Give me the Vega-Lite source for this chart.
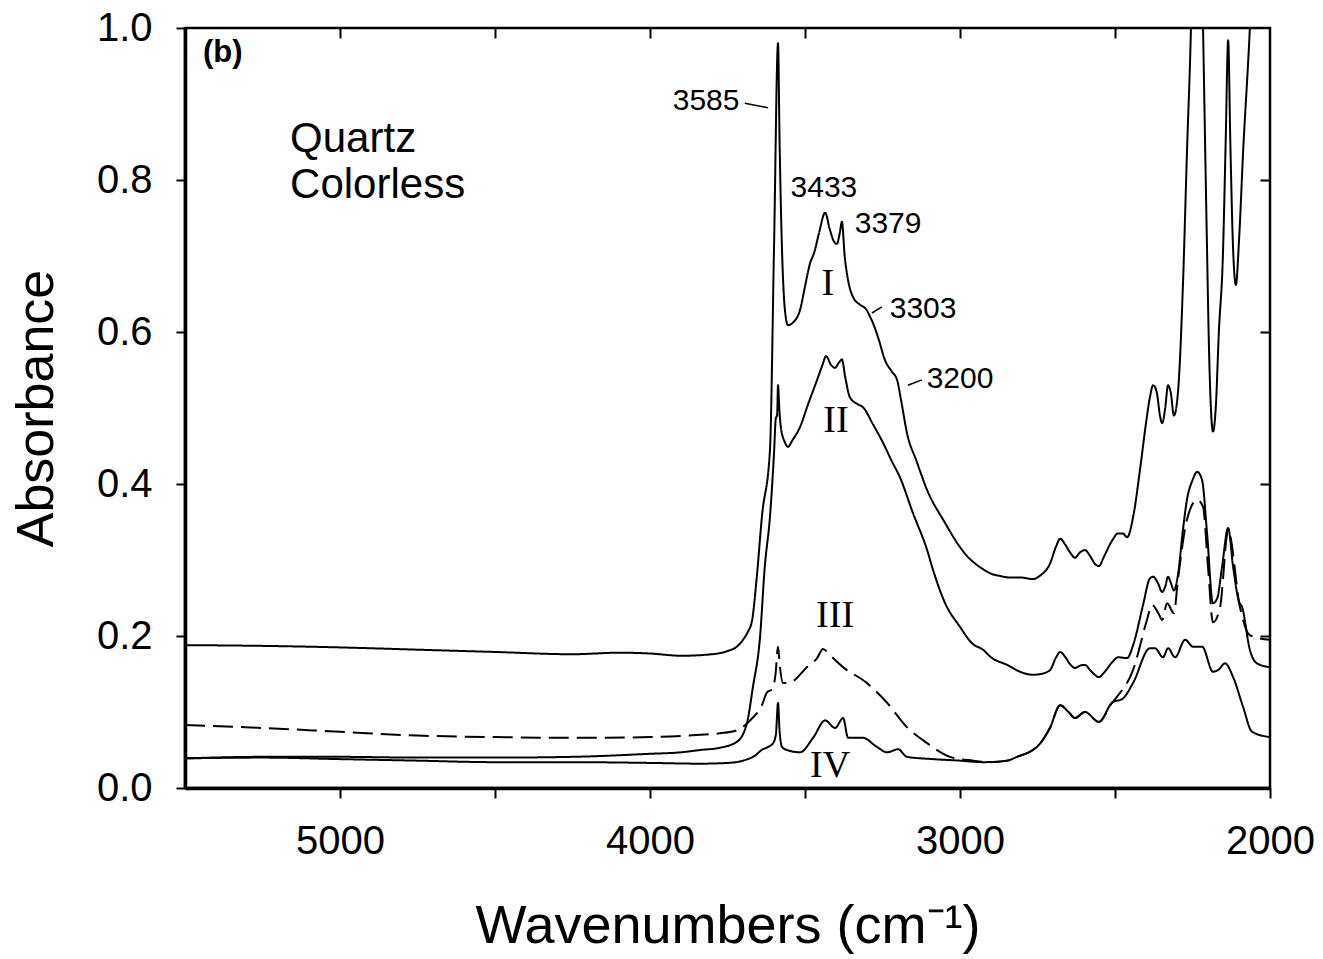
{
  "$schema": "https://vega.github.io/schema/vega-lite/v6.json",
  "width": 1085,
  "height": 760,
  "autosize": "none",
  "padding": {"left": 185, "top": 28, "right": 53, "bottom": 171},
  "background": "white",
  "config": {
    "view": {"stroke": "black", "strokeWidth": 2.5},
    "axis": {"grid": false, "domainColor": "black", "tickColor": "black", "labelColor": "black", "titleColor": "black", "labelFont": "Liberation Sans", "titleFont": "Liberation Sans", "titleFontWeight": "normal"}
  },
  "datasets": {
    "curves": [
      {"s":"I","wn":5500,"a":0.188},{"s":"I","wn":5250,"a":0.187},{"s":"I","wn":5000,"a":0.185},{"s":"I","wn":4750,"a":0.182},{"s":"I","wn":4500,"a":0.179},{"s":"I","wn":4250,"a":0.176},{"s":"I","wn":4100,"a":0.178},{"s":"I","wn":4000,"a":0.177},{"s":"I","wn":3900,"a":0.174},{"s":"I","wn":3800,"a":0.176},{"s":"I","wn":3752,"a":0.18},{"s":"I","wn":3720,"a":0.186},{"s":"I","wn":3700,"a":0.195},{"s":"I","wn":3685,"a":0.205},{"s":"I","wn":3671,"a":0.22},{"s":"I","wn":3655,"a":0.28},{"s":"I","wn":3639,"a":0.357},{"s":"I","wn":3613,"a":0.445},{"s":"I","wn":3600,"a":0.71},{"s":"I","wn":3587,"a":0.98},{"s":"I","wn":3582,"a":0.85},{"s":"I","wn":3575,"a":0.72},{"s":"I","wn":3565,"a":0.63},{"s":"I","wn":3555,"a":0.609},{"s":"I","wn":3540,"a":0.612},{"s":"I","wn":3516,"a":0.629},{"s":"I","wn":3500,"a":0.66},{"s":"I","wn":3484,"a":0.69},{"s":"I","wn":3470,"a":0.705},{"s":"I","wn":3455,"a":0.73},{"s":"I","wn":3435,"a":0.757},{"s":"I","wn":3420,"a":0.735},{"s":"I","wn":3405,"a":0.718},{"s":"I","wn":3397,"a":0.716},{"s":"I","wn":3388,"a":0.73},{"s":"I","wn":3381,"a":0.745},{"s":"I","wn":3372,"a":0.70},{"s":"I","wn":3361,"a":0.668},{"s":"I","wn":3345,"a":0.646},{"s":"I","wn":3323,"a":0.636},{"s":"I","wn":3303,"a":0.63},{"s":"I","wn":3290,"a":0.62},{"s":"I","wn":3281,"a":0.612},{"s":"I","wn":3262,"a":0.59},{"s":"I","wn":3242,"a":0.563},{"s":"I","wn":3220,"a":0.548},{"s":"I","wn":3203,"a":0.537},{"s":"I","wn":3190,"a":0.51},{"s":"I","wn":3171,"a":0.467},{"s":"I","wn":3140,"a":0.43},{"s":"I","wn":3106,"a":0.392},{"s":"I","wn":3050,"a":0.35},{"s":"I","wn":3000,"a":0.317},{"s":"I","wn":2977,"a":0.305},{"s":"I","wn":2950,"a":0.295},{"s":"I","wn":2926,"a":0.288},{"s":"I","wn":2900,"a":0.282},{"s":"I","wn":2871,"a":0.279},{"s":"I","wn":2840,"a":0.277},{"s":"I","wn":2806,"a":0.277},{"s":"I","wn":2765,"a":0.275},{"s":"I","wn":2740,"a":0.28},{"s":"I","wn":2710,"a":0.295},{"s":"I","wn":2690,"a":0.318},{"s":"I","wn":2677,"a":0.328},{"s":"I","wn":2660,"a":0.32},{"s":"I","wn":2645,"a":0.31},{"s":"I","wn":2629,"a":0.303},{"s":"I","wn":2613,"a":0.31},{"s":"I","wn":2597,"a":0.313},{"s":"I","wn":2580,"a":0.305},{"s":"I","wn":2565,"a":0.295},{"s":"I","wn":2552,"a":0.292},{"s":"I","wn":2535,"a":0.305},{"s":"I","wn":2510,"a":0.325},{"s":"I","wn":2490,"a":0.335},{"s":"I","wn":2475,"a":0.335},{"s":"I","wn":2461,"a":0.33},{"s":"I","wn":2440,"a":0.36},{"s":"I","wn":2419,"a":0.42},{"s":"I","wn":2400,"a":0.48},{"s":"I","wn":2387,"a":0.515},{"s":"I","wn":2377,"a":0.53},{"s":"I","wn":2365,"a":0.52},{"s":"I","wn":2355,"a":0.49},{"s":"I","wn":2348,"a":0.48},{"s":"I","wn":2338,"a":0.50},{"s":"I","wn":2329,"a":0.53},{"s":"I","wn":2320,"a":0.52},{"s":"I","wn":2310,"a":0.49},{"s":"I","wn":2297,"a":0.52},{"s":"I","wn":2281,"a":0.66},{"s":"I","wn":2268,"a":0.835},{"s":"I","wn":2255,"a":1.0},{"s":"I","wn":2245,"a":1.2},{"s":"I","wn":2225,"a":1.2},{"s":"I","wn":2216,"a":1.0},{"s":"I","wn":2205,"a":0.75},{"s":"I","wn":2195,"a":0.55},{"s":"I","wn":2184,"a":0.469},{"s":"I","wn":2175,"a":0.5},{"s":"I","wn":2165,"a":0.6},{"s":"I","wn":2152,"a":0.70},{"s":"I","wn":2143,"a":0.85},{"s":"I","wn":2135,"a":0.984},{"s":"I","wn":2128,"a":0.85},{"s":"I","wn":2120,"a":0.72},{"s":"I","wn":2110,"a":0.662},{"s":"I","wn":2100,"a":0.72},{"s":"I","wn":2087,"a":0.835},{"s":"I","wn":2065,"a":1.0},{"s":"I","wn":2050,"a":1.15},{"s":"I","wn":2000,"a":1.5},

      {"s":"II","wn":5500,"a":0.039},{"s":"II","wn":5250,"a":0.041},{"s":"II","wn":5000,"a":0.041},{"s":"II","wn":4750,"a":0.040},{"s":"II","wn":4500,"a":0.040},{"s":"II","wn":4250,"a":0.041},{"s":"II","wn":4000,"a":0.045},{"s":"II","wn":3900,"a":0.047},{"s":"II","wn":3839,"a":0.050},{"s":"II","wn":3774,"a":0.053},{"s":"II","wn":3719,"a":0.061},{"s":"II","wn":3687,"a":0.086},{"s":"II","wn":3668,"a":0.133},{"s":"II","wn":3645,"a":0.199},{"s":"II","wn":3630,"a":0.29},{"s":"II","wn":3613,"a":0.357},{"s":"II","wn":3600,"a":0.44},{"s":"II","wn":3594,"a":0.487},{"s":"II","wn":3590,"a":0.49},{"s":"II","wn":3587,"a":0.53},{"s":"II","wn":3583,"a":0.50},{"s":"II","wn":3578,"a":0.475},{"s":"II","wn":3565,"a":0.455},{"s":"II","wn":3555,"a":0.449},{"s":"II","wn":3540,"a":0.458},{"s":"II","wn":3516,"a":0.475},{"s":"II","wn":3490,"a":0.505},{"s":"II","wn":3461,"a":0.537},{"s":"II","wn":3445,"a":0.555},{"s":"II","wn":3432,"a":0.568},{"s":"II","wn":3415,"a":0.556},{"s":"II","wn":3403,"a":0.553},{"s":"II","wn":3390,"a":0.56},{"s":"II","wn":3381,"a":0.564},{"s":"II","wn":3370,"a":0.54},{"s":"II","wn":3355,"a":0.514},{"s":"II","wn":3330,"a":0.505},{"s":"II","wn":3313,"a":0.501},{"s":"II","wn":3280,"a":0.478},{"s":"II","wn":3248,"a":0.454},{"s":"II","wn":3220,"a":0.43},{"s":"II","wn":3194,"a":0.409},{"s":"II","wn":3152,"a":0.362},{"s":"II","wn":3106,"a":0.313},{"s":"II","wn":3087,"a":0.287},{"s":"II","wn":3050,"a":0.245},{"s":"II","wn":3000,"a":0.212},{"s":"II","wn":2960,"a":0.19},{"s":"II","wn":2926,"a":0.182},{"s":"II","wn":2900,"a":0.172},{"s":"II","wn":2848,"a":0.162},{"s":"II","wn":2800,"a":0.152},{"s":"II","wn":2765,"a":0.149},{"s":"II","wn":2740,"a":0.15},{"s":"II","wn":2710,"a":0.155},{"s":"II","wn":2690,"a":0.172},{"s":"II","wn":2677,"a":0.179},{"s":"II","wn":2660,"a":0.172},{"s":"II","wn":2645,"a":0.163},{"s":"II","wn":2629,"a":0.158},{"s":"II","wn":2613,"a":0.161},{"s":"II","wn":2597,"a":0.162},{"s":"II","wn":2580,"a":0.155},{"s":"II","wn":2552,"a":0.146},{"s":"II","wn":2535,"a":0.152},{"s":"II","wn":2510,"a":0.165},{"s":"II","wn":2490,"a":0.172},{"s":"II","wn":2461,"a":0.171},{"s":"II","wn":2440,"a":0.19},{"s":"II","wn":2410,"a":0.24},{"s":"II","wn":2387,"a":0.276},{"s":"II","wn":2377,"a":0.278},{"s":"II","wn":2362,"a":0.27},{"s":"II","wn":2348,"a":0.258},{"s":"II","wn":2338,"a":0.265},{"s":"II","wn":2329,"a":0.278},{"s":"II","wn":2320,"a":0.27},{"s":"II","wn":2310,"a":0.26},{"s":"II","wn":2297,"a":0.28},{"s":"II","wn":2281,"a":0.339},{"s":"II","wn":2268,"a":0.379},{"s":"II","wn":2250,"a":0.405},{"s":"II","wn":2235,"a":0.416},{"s":"II","wn":2219,"a":0.405},{"s":"II","wn":2203,"a":0.335},{"s":"II","wn":2184,"a":0.243},{"s":"II","wn":2170,"a":0.25},{"s":"II","wn":2155,"a":0.29},{"s":"II","wn":2135,"a":0.342},{"s":"II","wn":2119,"a":0.291},{"s":"II","wn":2100,"a":0.245},{"s":"II","wn":2090,"a":0.238},{"s":"II","wn":2065,"a":0.182},{"s":"II","wn":2042,"a":0.164},{"s":"II","wn":2000,"a":0.159},

      {"s":"III","wn":5500,"a":0.083},{"s":"III","wn":5250,"a":0.079},{"s":"III","wn":5000,"a":0.074},{"s":"III","wn":4750,"a":0.069},{"s":"III","wn":4500,"a":0.067},{"s":"III","wn":4250,"a":0.066},{"s":"III","wn":4000,"a":0.067},{"s":"III","wn":3839,"a":0.070},{"s":"III","wn":3774,"a":0.072},{"s":"III","wn":3719,"a":0.076},{"s":"III","wn":3677,"a":0.089},{"s":"III","wn":3639,"a":0.109},{"s":"III","wn":3622,"a":0.126},{"s":"III","wn":3606,"a":0.13},{"s":"III","wn":3595,"a":0.15},{"s":"III","wn":3587,"a":0.186},{"s":"III","wn":3581,"a":0.16},{"s":"III","wn":3571,"a":0.138},{"s":"III","wn":3542,"a":0.14},{"s":"III","wn":3494,"a":0.159},{"s":"III","wn":3461,"a":0.171},{"s":"III","wn":3442,"a":0.183},{"s":"III","wn":3420,"a":0.175},{"s":"III","wn":3377,"a":0.159},{"s":"III","wn":3300,"a":0.138},{"s":"III","wn":3235,"a":0.112},{"s":"III","wn":3171,"a":0.08},{"s":"III","wn":3106,"a":0.059},{"s":"III","wn":3032,"a":0.041},{"s":"III","wn":2958,"a":0.036},{"s":"III","wn":2903,"a":0.034},{"s":"III","wn":2848,"a":0.036},{"s":"III","wn":2816,"a":0.041},{"s":"III","wn":2765,"a":0.05},{"s":"III","wn":2752,"a":0.054},{"s":"III","wn":2710,"a":0.079},{"s":"III","wn":2677,"a":0.109},{"s":"III","wn":2650,"a":0.1},{"s":"III","wn":2629,"a":0.092},{"s":"III","wn":2597,"a":0.1},{"s":"III","wn":2552,"a":0.087},{"s":"III","wn":2510,"a":0.112},{"s":"III","wn":2494,"a":0.12},{"s":"III","wn":2442,"a":0.155},{"s":"III","wn":2397,"a":0.221},{"s":"III","wn":2381,"a":0.241},{"s":"III","wn":2360,"a":0.23},{"s":"III","wn":2348,"a":0.221},{"s":"III","wn":2332,"a":0.243},{"s":"III","wn":2310,"a":0.23},{"s":"III","wn":2297,"a":0.274},{"s":"III","wn":2268,"a":0.353},{"s":"III","wn":2235,"a":0.379},{"s":"III","wn":2216,"a":0.37},{"s":"III","wn":2200,"a":0.291},{"s":"III","wn":2184,"a":0.218},{"s":"III","wn":2161,"a":0.238},{"s":"III","wn":2135,"a":0.339},{"s":"III","wn":2097,"a":0.238},{"s":"III","wn":2065,"a":0.201},{"s":"III","wn":2000,"a":0.195},

      {"s":"IV","wn":5500,"a":0.039},{"s":"IV","wn":5250,"a":0.040},{"s":"IV","wn":5000,"a":0.038},{"s":"IV","wn":4750,"a":0.036},{"s":"IV","wn":4500,"a":0.034},{"s":"IV","wn":4250,"a":0.034},{"s":"IV","wn":4000,"a":0.033},{"s":"IV","wn":3839,"a":0.032},{"s":"IV","wn":3750,"a":0.033},{"s":"IV","wn":3700,"a":0.036},{"s":"IV","wn":3660,"a":0.043},{"s":"IV","wn":3640,"a":0.05},{"s":"IV","wn":3615,"a":0.055},{"s":"IV","wn":3603,"a":0.059},{"s":"IV","wn":3594,"a":0.07},{"s":"IV","wn":3587,"a":0.112},{"s":"IV","wn":3582,"a":0.075},{"s":"IV","wn":3574,"a":0.054},{"s":"IV","wn":3558,"a":0.05},{"s":"IV","wn":3516,"a":0.047},{"s":"IV","wn":3474,"a":0.066},{"s":"IV","wn":3435,"a":0.089},{"s":"IV","wn":3403,"a":0.079},{"s":"IV","wn":3377,"a":0.092},{"s":"IV","wn":3361,"a":0.066},{"s":"IV","wn":3313,"a":0.066},{"s":"IV","wn":3268,"a":0.054},{"s":"IV","wn":3235,"a":0.047},{"s":"IV","wn":3200,"a":0.051},{"s":"IV","wn":3171,"a":0.041},{"s":"IV","wn":3087,"a":0.038},{"s":"IV","wn":3000,"a":0.036},{"s":"IV","wn":2926,"a":0.034},{"s":"IV","wn":2848,"a":0.036},{"s":"IV","wn":2816,"a":0.041},{"s":"IV","wn":2765,"a":0.05},{"s":"IV","wn":2752,"a":0.054},{"s":"IV","wn":2710,"a":0.079},{"s":"IV","wn":2677,"a":0.109},{"s":"IV","wn":2650,"a":0.1},{"s":"IV","wn":2629,"a":0.092},{"s":"IV","wn":2597,"a":0.1},{"s":"IV","wn":2552,"a":0.087},{"s":"IV","wn":2510,"a":0.112},{"s":"IV","wn":2474,"a":0.118},{"s":"IV","wn":2442,"a":0.138},{"s":"IV","wn":2387,"a":0.184},{"s":"IV","wn":2371,"a":0.184},{"s":"IV","wn":2345,"a":0.172},{"s":"IV","wn":2329,"a":0.184},{"s":"IV","wn":2306,"a":0.172},{"s":"IV","wn":2274,"a":0.195},{"s":"IV","wn":2248,"a":0.186},{"s":"IV","wn":2219,"a":0.186},{"s":"IV","wn":2184,"a":0.153},{"s":"IV","wn":2168,"a":0.155},{"s":"IV","wn":2145,"a":0.164},{"s":"IV","wn":2119,"a":0.146},{"s":"IV","wn":2087,"a":0.107},{"s":"IV","wn":2058,"a":0.074},{"s":"IV","wn":2000,"a":0.067}
    ],
    "peaks": [
      {"t":"3585","wn":3819,"a":0.892},
      {"t":"3433","wn":3439,"a":0.778},
      {"t":"3379","wn":3232,"a":0.730},
      {"t":"3303","wn":3119,"a":0.618},
      {"t":"3200","wn":3000,"a":0.526}
    ],
    "romans": [
      {"t":"I","wn":3426,"a":0.649},
      {"t":"II","wn":3400,"a":0.468},
      {"t":"III","wn":3403,"a":0.212},
      {"t":"IV","wn":3419,"a":0.0145}
    ],
    "sample": [
      {"t":"Quartz","wn":5161,"a":0.837},
      {"t":"Colorless","wn":5161,"a":0.776}
    ],
    "panel": [
      {"t":"(b)","wn":5442,"a":0.955}
    ],
    "leaders": [
      {"wn":3694,"a":0.901,"wn2":3619,"a2":0.895},
      {"wn":3284,"a":0.625,"wn2":3252,"a2":0.633},
      {"wn":3168,"a":0.530,"wn2":3123,"a2":0.537}
    ]
  },
  "resolve": {"axis": {"x": "independent", "y": "independent"}},
  "layer": [
    {
      "data": {"name": "curves"},
      "mark": {"type": "line", "color": "black", "strokeWidth": 2, "clip": true, "interpolate": "monotone"},
      "encoding": {
        "x": {"field": "wn", "type": "quantitative",
              "scale": {"domain": [2000, 5500], "reverse": true, "nice": false, "zero": false},
              "axis": {"orient": "bottom", "values": [5000, 4500, 4000, 3500, 3000, 2500, 2000],
                       "labelExpr": "datum.value % 1000 === 0 ? datum.label : ''", "format": "d",
                       "tickSize": 10, "tickWidth": 2, "domainWidth": 3.5, "labelFontSize": 40,
                       "labelPadding": 23, "labelFlush": false, "labelOverlap": false,
                       "title": "Wavenumbers (cm⁻¹)", "titleFontSize": 54, "titlePadding": 38}},
        "y": {"field": "a", "type": "quantitative",
              "scale": {"domain": [0, 1], "nice": false, "zero": true},
              "axis": {"orient": "left", "values": [0, 0.2, 0.4, 0.6, 0.8, 1.0], "format": ".1f",
                       "tickSize": 9, "tickWidth": 2, "domainWidth": 3.5, "labelFontSize": 40,
                       "labelPadding": 24, "labelFlush": false, "labelOverlap": false,
                       "title": "Absorbance", "titleFontSize": 52, "titlePadding": 33}},
        "strokeDash": {"field": "s", "type": "nominal",
                       "scale": {"domain": ["I", "II", "III", "IV"], "range": [[1, 0], [1, 0], [20, 8], [1, 0]]},
                       "legend": null}
      }
    },
    {
      "data": {"name": "peaks"},
      "mark": {"type": "text", "font": "Liberation Sans", "fontSize": 30, "align": "center", "baseline": "alphabetic", "color": "black"},
      "encoding": {
        "x": {"field": "wn", "type": "quantitative",
              "axis": {"orient": "top", "values": [5000, 4500, 4000, 3500, 3000, 2500], "labels": false,
                       "domain": false, "tickSize": -10, "tickWidth": 2, "title": null}},
        "y": {"field": "a", "type": "quantitative",
              "axis": {"orient": "right", "values": [0.2, 0.4, 0.6, 0.8], "labels": false,
                       "domain": false, "tickSize": -10, "tickWidth": 2, "title": null}},
        "text": {"field": "t"}
      }
    },
    {
      "data": {"name": "romans"},
      "mark": {"type": "text", "font": "Liberation Serif", "fontSize": 38, "align": "center", "baseline": "alphabetic", "color": "black"},
      "encoding": {
        "x": {"field": "wn", "type": "quantitative", "axis": null},
        "y": {"field": "a", "type": "quantitative", "axis": null},
        "text": {"field": "t"}
      }
    },
    {
      "data": {"name": "sample"},
      "mark": {"type": "text", "font": "Liberation Sans", "fontSize": 42, "align": "left", "baseline": "alphabetic", "color": "black"},
      "encoding": {
        "x": {"field": "wn", "type": "quantitative", "axis": null},
        "y": {"field": "a", "type": "quantitative", "axis": null},
        "text": {"field": "t"}
      }
    },
    {
      "data": {"name": "panel"},
      "mark": {"type": "text", "font": "Liberation Sans", "fontSize": 31, "fontWeight": "bold", "align": "left", "baseline": "alphabetic", "color": "black"},
      "encoding": {
        "x": {"field": "wn", "type": "quantitative", "axis": null},
        "y": {"field": "a", "type": "quantitative", "axis": null},
        "text": {"field": "t"}
      }
    },
    {
      "data": {"name": "leaders"},
      "mark": {"type": "rule", "color": "black", "strokeWidth": 1.5},
      "encoding": {
        "x": {"field": "wn", "type": "quantitative", "axis": null},
        "x2": {"field": "wn2"},
        "y": {"field": "a", "type": "quantitative", "axis": null},
        "y2": {"field": "a2"}
      }
    }
  ]
}
